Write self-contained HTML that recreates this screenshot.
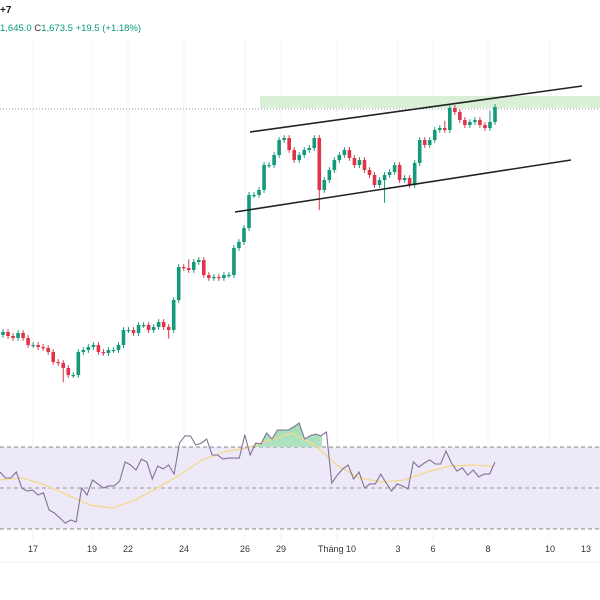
<!DOCTYPE html>
<html><head><meta charset="utf-8"><style>
html,body{margin:0;padding:0;background:#fff;}
svg{display:block;font-family:"Liberation Sans",sans-serif;}
</style></head><body>
<svg id="chart" width="600" height="600">
<g id="grid"></g>
<rect x="260" y="96" width="340" height="12" fill="#d9efd6"/>
<line x1="0" y1="109" x2="600" y2="109" stroke="#7fa8a5" stroke-width="1" stroke-dasharray="1,2"/>
<rect x="0" y="447" width="600" height="82" fill="#ede9f8"/>
<line x1="0" y1="447" x2="600" y2="447" stroke="#888" stroke-dasharray="4,3"/>
<line x1="0" y1="488" x2="600" y2="488" stroke="#999" stroke-dasharray="4,3"/>
<line x1="0" y1="529" x2="600" y2="529" stroke="#888" stroke-dasharray="4,3"/>
<g id="candles"></g>
<line x1="250" y1="132" x2="582" y2="86" stroke="#222" stroke-width="1.6"/>
<line x1="235" y1="212" x2="571" y2="160" stroke="#222" stroke-width="1.6"/>
<defs><clipPath id="ob"><rect x="252" y="400" width="70" height="47"/></clipPath>
<linearGradient id="gg" x1="0" y1="0" x2="0" y2="1"><stop offset="0" stop-color="#9fdcb4"/><stop offset="1" stop-color="#eef8f0"/></linearGradient></defs>
<g id="rsi"></g>
<text x="0" y="13" font-size="10" font-weight="bold" fill="#222">+7</text>
<text x="0" y="31" font-size="9.5" fill="#089981">1,645.0 <tspan fill="#333">C</tspan>1,673.5 +19.5 (+1.18%)</text>
<g id="xaxis"></g>
<line x1="0" y1="562" x2="600" y2="562" stroke="#f0f0f0"/>
</svg>
<script>
const closes=[1516.7,1513.9,1512.5,1516,1512.5,1507.6,1507.6,1506.2,1505.5,1502.7,1495.7,1495,1491.5,1486.6,1486.6,1502.7,1504.1,1506.2,1507.6,1502.7,1502,1504.1,1504.1,1507.6,1518.1,1518.1,1516,1521.6,1521.6,1518.1,1520.2,1523.7,1520.2,1518.1,1539.1,1562.2,1561.5,1560.1,1565.7,1567.1,1556.6,1554.5,1555.2,1554.5,1556.6,1556.6,1575.5,1579.7,1589.5,1612.6,1612.6,1616.1,1633.6,1633.6,1640.6,1651.1,1652.5,1644.1,1637.1,1640.6,1644.1,1645.5,1652.5,1616.1,1623.1,1630.1,1637.1,1640.6,1644.1,1638.5,1633.6,1637.1,1630.1,1626.6,1619.6,1623.1,1626.6,1628.7,1633.6,1623.1,1624.5,1619.6,1635,1651.1,1647.6,1651.1,1658.1,1659.5,1658.1,1673.5,1670.7,1665.1,1661.6,1663.7,1665.1,1661.6,1659.5,1663.7,1674.2];
const wickSpikes={12:[0,8],63:[0,12],76:[0,14],33:[0,4],37:[4,0],88:[3,0],97:[6,0]};
const rsiValues=[57.8,54.9,54.9,57.8,50,48.5,49,46.6,47.6,39.3,37.8,35.4,32.9,34.4,33.4,50,46.6,53.9,52,50,51,51,53.4,62.7,61.2,58.8,64.1,62.7,54.4,60.7,59.3,61.2,56.8,71.9,75.4,75.4,71,71.9,73.9,66.1,66.1,64.1,64.6,64.6,64.6,75.9,66.1,71.9,71.5,76.8,73.9,78.3,78.3,78.3,79.8,81.7,73.9,75.4,76.3,75.4,77.3,52.4,56.3,59.3,61.2,54.4,57.8,50,52,52,56.8,52.4,48.5,52,51,49.5,62.7,60.2,62.2,63.7,61.7,61.7,68,62.2,58.3,59.8,56.3,58.8,55.4,56.8,56.8,62.7];
const maValues=[53.9,54.9,51.5,46.6,41.7,40.2,44.1,50,56.3,63.7,67.6,69.5,73.4,76.8,71,61.2,54.9,52.9,53.9,57.8,60.7,61.2,60.7];
const xTickLabels=["17","19","22","24","26","29","Tháng 10","3","6","8","10","13"];
const xTickPos=[33,92,128,184,245,281,337,398,433,488,550,586];
const NS="http://www.w3.org/2000/svg";
function mk(t,a,p){const e=document.createElementNS(NS,t);for(const k in a)e.setAttribute(k,a[k]);p.appendChild(e);return e;}
const py=v=>108+(1673.5-v)/0.7;
const cx=i=>3+i*(492/(closes.length-1));
const ry=v=>488-(v-50)*2.05;
const rx=i=>i*495/(rsiValues.length-1);
const mx=i=>i*494/(maValues.length-1);
const grid=document.getElementById('grid');
[33,92,128,184,245,281,337,398,433,488,550].forEach(x=>{const l=mk('line',{x1:x,y1:40,x2:x,y2:540,stroke:'#f3f3f3'},grid);

});
const cg=document.getElementById('candles');
for(let i=0;i<closes.length;i++){
 const c=closes[i],o=i?closes[i-1]:closes[0]-2;const up=c>=o;const col=up?'#14997a':'#e0344a';
 const sp=wickSpikes[i]||[0,0];
 const hi=Math.max(o,c)+2+sp[0],lo=Math.min(o,c)-2-sp[1];
 const x=cx(i);
 const w=mk('line',{x1:x,y1:py(hi),x2:x,y2:py(lo),stroke:col,'stroke-width':1},cg);
 
 
 const t=Math.min(py(o),py(c)),h=Math.max(1.2,Math.abs(py(o)-py(c)));
 const b=mk('rect',{x:x-1.8,y:t,width:3.6,height:h,fill:col},cg);
 
 
}
const rg=document.getElementById('rsi');
const pts=rsiValues.map((v,i)=>rx(i).toFixed(1)+','+ry(v).toFixed(1));
const area=mk('polygon',{points:'0,447 '+pts.join(' ')+' 495,447',fill:'url(#gg)','clip-path':'url(#ob)'},rg);


const ma=mk('polyline',{points:maValues.map((v,i)=>mx(i).toFixed(1)+','+ry(v).toFixed(1)).join(' '),fill:'none',stroke:'#f5d98a','stroke-width':1.3},rg);


const rl=mk('polyline',{points:pts.join(' '),fill:'none',stroke:'#7e7396','stroke-width':1.1},rg);


const xa=document.getElementById('xaxis');
xTickLabels.forEach((s,i)=>{const t=mk('text',{x:xTickPos[i],y:552,'font-size':9,fill:'#333','text-anchor':'middle'},xa);t.textContent=s;

});
</script>
</body></html>
